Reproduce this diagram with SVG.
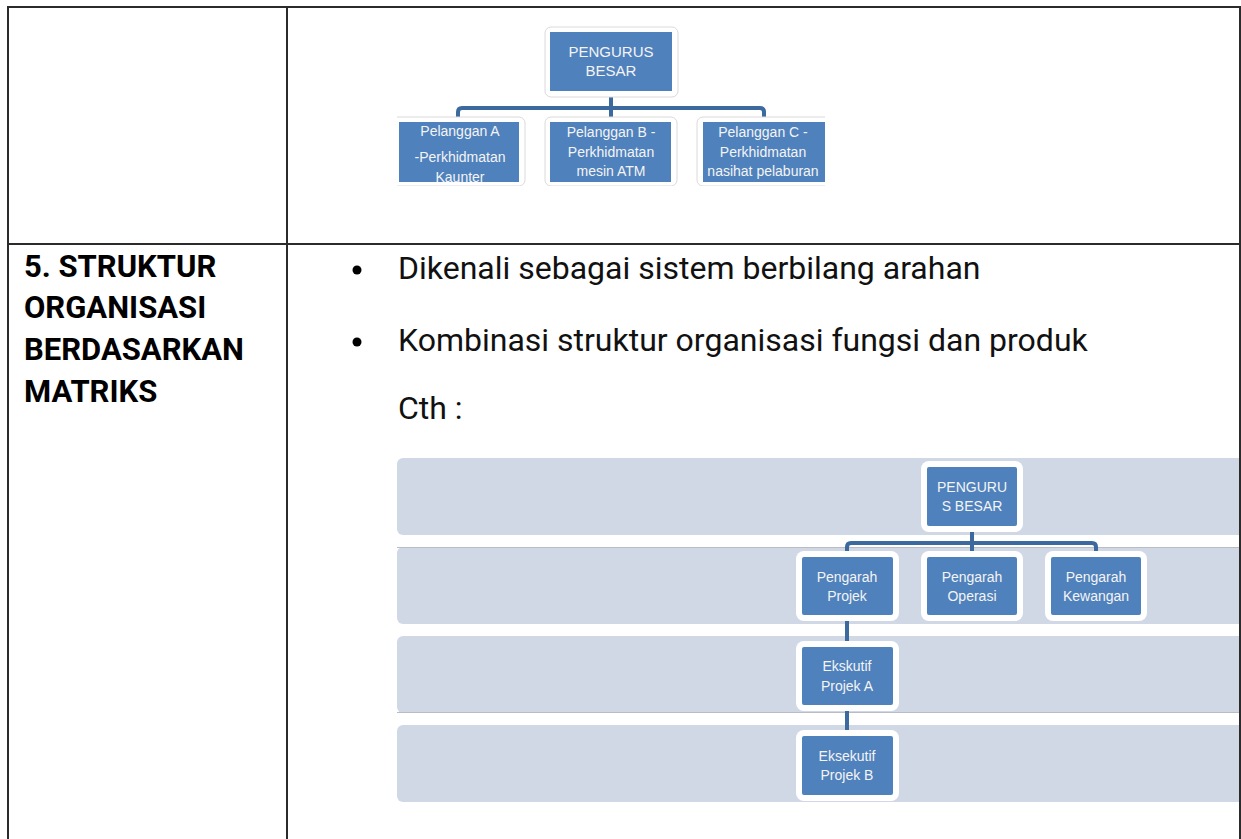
<svg xmlns="http://www.w3.org/2000/svg" width="1241" height="839" viewBox="0 0 1241 839">
<style>
.tbl{stroke:#2b2b2b;stroke-width:2;fill:none}
.head{font-family:Roboto,"Liberation Sans",sans-serif;font-weight:700;font-size:31px;fill:#000}
.body{font-family:Roboto,"Liberation Sans",sans-serif;font-size:32px;fill:#111}
.nt{font-family:"Liberation Sans",Arial,sans-serif;font-size:14px;fill:#f4f4f4;text-anchor:middle}
.nt15{font-family:"Liberation Sans",Arial,sans-serif;font-size:15px;fill:#f4f4f4;text-anchor:middle}
.frame1{fill:#fff;stroke:#dadada;stroke-width:1}
.frame2{fill:#fff}
.blue{fill:#4f81bd}
.band{fill:#d0d8e6}
.conn{stroke:#3d6a9e;stroke-width:4;fill:none;stroke-linejoin:round}
</style>
<defs>
<clipPath id="topclip"><rect x="397" y="20" width="428" height="166"/></clipPath>
<clipPath id="aclip"><rect x="399" y="122" width="120" height="60"/></clipPath>
<clipPath id="bandclip"><rect x="390" y="450" width="850" height="360"/></clipPath>
</defs>
<rect width="1241" height="839" fill="#fff"/>

<!-- Left column text -->
<g id="left-label">
<text class="head" x="24" y="277">5. STRUKTUR</text>
<text class="head" x="24" y="318">ORGANISASI</text>
<text class="head" x="24" y="360">BERDASARKAN</text>
<text class="head" x="24" y="402">MATRIKS</text>
</g>

<!-- Bullets -->
<g id="bullets">
<circle cx="357" cy="270" r="4.5" fill="#000"/>
<circle cx="357" cy="342" r="4.5" fill="#000"/>
<text class="body" x="398" y="279">Dikenali sebagai sistem berbilang arahan</text>
<text class="body" x="398" y="351">Kombinasi struktur organisasi fungsi dan produk</text>
<text class="body" x="398" y="419">Cth :</text>
</g>

<!-- Top chart -->
<g clip-path="url(#topclip)">
<g id="top-connectors">
<path class="conn" d="M611 97 V117"/>
<path class="conn" d="M458 119 V112 Q458 108 462 108 H760 Q764 108 764 112 V119"/>
</g>
<g id="top-pengurus">
<rect class="frame1" x="545" y="27" width="133" height="70" rx="6"/>
<rect class="blue" x="550" y="32" width="122" height="59"/>
<text class="nt15" x="611" y="57">PENGURUS</text>
<text class="nt15" x="611" y="76">BESAR</text>
</g>
<g id="top-pelanggan-a">
<rect class="frame1" x="390" y="117" width="135" height="69" rx="6"/>
<rect class="blue" x="399" y="122" width="120" height="60"/>
<g clip-path="url(#aclip)">
<text class="nt" x="460" y="136">Pelanggan A</text>
<text class="nt" x="460" y="162">-Perkhidmatan</text>
<text class="nt" x="460" y="182">Kaunter</text>
</g>
</g>
<g id="top-pelanggan-b">
<rect class="frame1" x="545" y="117" width="132" height="69" rx="6"/>
<rect class="blue" x="550" y="122" width="121" height="60"/>
<text class="nt" x="611" y="137">Pelanggan B -</text>
<text class="nt" x="611" y="157">Perkhidmatan</text>
<text class="nt" x="611" y="176">mesin ATM</text>
</g>
<g id="top-pelanggan-c">
<rect class="frame1" x="697" y="117" width="140" height="69" rx="6"/>
<rect class="blue" x="703" y="122" width="130" height="60"/>
<text class="nt" x="763" y="137">Pelanggan C -</text>
<text class="nt" x="763" y="157">Perkhidmatan</text>
<text class="nt" x="763" y="176">nasihat pelaburan</text>
</g>
</g>

<!-- Bottom chart bands -->
<g id="bands" clip-path="url(#bandclip)">
<rect class="band" x="397" y="458" width="860" height="77" rx="6"/>
<rect class="band" x="397" y="547" width="860" height="77" rx="6"/>
<line x1="397" y1="547.5" x2="1240" y2="547.5" stroke="#b9bcc2" stroke-width="1"/>
<rect class="band" x="397" y="636" width="860" height="77" rx="6"/>
<line x1="397" y1="712.5" x2="1240" y2="712.5" stroke="#b9bcc2" stroke-width="1"/>
<rect class="band" x="397" y="725" width="860" height="77" rx="6"/>
</g>

<!-- Bottom chart connectors -->
<g id="connectors">
<path class="conn" d="M972 530 V553"/>
<path class="conn" d="M847 553 V547 Q847 543 851 543 H1092 Q1096 543 1096 547 V553"/>
<path class="conn" d="M847 619 V643"/>
<path class="conn" d="M847 709 V732"/>
</g>

<g id="pengurus-besar">
<rect class="frame2" x="921" y="461" width="102" height="71" rx="8"/>
<rect class="blue" x="927" y="467" width="90" height="59" rx="2"/>
<text class="nt" x="972" y="492">PENGURU</text>
<text class="nt" x="972" y="511">S BESAR</text>
</g>
<g id="pengarah-projek">
<rect class="frame2" x="796" y="551" width="103" height="70" rx="8"/>
<rect class="blue" x="802" y="557" width="91" height="58" rx="2"/>
<text class="nt" x="847" y="582">Pengarah</text>
<text class="nt" x="847" y="601">Projek</text>
</g>
<g id="pengarah-operasi">
<rect class="frame2" x="921" y="551" width="102" height="70" rx="8"/>
<rect class="blue" x="927" y="557" width="90" height="58" rx="2"/>
<text class="nt" x="972" y="582">Pengarah</text>
<text class="nt" x="972" y="601">Operasi</text>
</g>
<g id="pengarah-kewangan">
<rect class="frame2" x="1045" y="551" width="102" height="70" rx="8"/>
<rect class="blue" x="1051" y="557" width="90" height="58" rx="2"/>
<text class="nt" x="1096" y="582">Pengarah</text>
<text class="nt" x="1096" y="601">Kewangan</text>
</g>
<g id="ekskutif-a">
<rect class="frame2" x="796" y="641" width="103" height="70" rx="8"/>
<rect class="blue" x="802" y="647" width="91" height="58" rx="2"/>
<text class="nt" x="847" y="671">Ekskutif</text>
<text class="nt" x="847" y="691">Projek A</text>
</g>
<g id="eksekutif-b">
<rect class="frame2" x="796" y="730" width="103" height="71" rx="8"/>
<rect class="blue" x="802" y="736" width="91" height="59" rx="2"/>
<text class="nt" x="847" y="761">Eksekutif</text>
<text class="nt" x="847" y="780">Projek B</text>
</g>

<!-- Table lines -->
<g id="table">
<line class="tbl" x1="7" y1="7" x2="1241" y2="7"/>
<line class="tbl" x1="8" y1="6" x2="8" y2="839"/>
<line class="tbl" x1="287" y1="6" x2="287" y2="839"/>
<line class="tbl" x1="1240" y1="6" x2="1240" y2="839"/>
<line class="tbl" x1="7" y1="244" x2="1241" y2="244"/>
</g>
</svg>
